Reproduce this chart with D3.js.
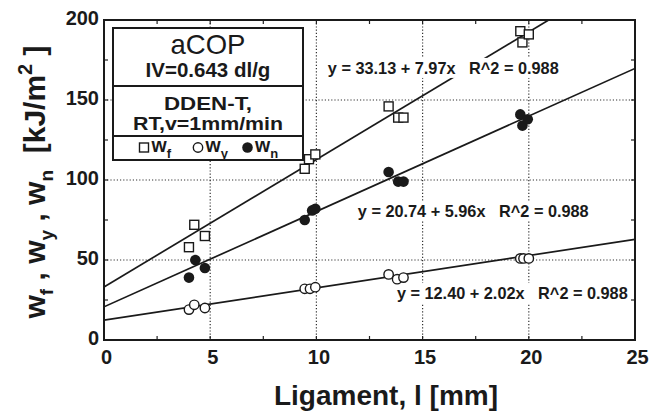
<!DOCTYPE html>
<html>
<head>
<meta charset="utf-8">
<script src="https://cdn.jsdelivr.net/npm/d3@7"></script>
<style>
  body { margin: 0; background: #fff; }
  svg text { font-family: "Liberation Sans", Arial, sans-serif; fill: #1a1a1a; }
</style>
</head>
<body>
<svg id="drawing_region"></svg>
<script>
// ligament length [mm] and energies [kJ/m2]
const lig_f = [4.0, 4.25, 4.75, 9.45, 9.65, 9.95, 13.4, 13.85, 14.1, 19.6, 19.7, 20.0];
const w_f   = [58, 72, 65, 107, 113, 116, 146, 139, 139, 193, 186, 191];
const lig_y = [4.0, 4.25, 4.75, 9.45, 9.7, 9.95, 13.4, 13.8, 14.1, 19.6, 19.75, 20.0];
const w_y   = [19, 22, 20, 32, 32, 33, 41, 38, 39, 51, 51, 51];
const lig_n = [4.0, 4.3, 4.75, 9.45, 9.8, 9.95, 13.4, 13.85, 14.1, 19.6, 19.7, 19.95];
const w_n   = [39, 50, 45, 75, 81, 82, 105, 99, 99, 141, 134, 138];

// regression lines  y = a + b x
const fit_names = ['f', 'n', 'y'];
const fit_a = [33.13, 20.74, 12.40];
const fit_b = [7.97, 5.96, 2.02];
const fit_r2 = [0.988, 0.988, 0.988];

const x_ticks = [0, 5, 10, 15, 20, 25];
const y_ticks = [0, 50, 100, 150, 200];

const config = {
    width: 649, height: 416,
    margin: {top: 20, right: 14, bottom: 76, left: 104}
};

const svg = d3.select('#drawing_region')
    .attr('width', config.width)
    .attr('height', config.height);

const inner_width = config.width - config.margin.left - config.margin.right;
const inner_height = config.height - config.margin.top - config.margin.bottom;

const chart = svg.append('g')
    .attr('transform', `translate(${config.margin.left}, ${config.margin.top})`);

const xscale = d3.scaleLinear().domain([0, 25]).range([0, inner_width]);
const yscale = d3.scaleLinear().domain([0, 200]).range([inner_height, 0]);

// dotted grid
chart.append('g').selectAll('line')
    .data(x_ticks.slice(1, -1))
    .join('line')
    .attr('x1', d => xscale(d)).attr('x2', d => xscale(d))
    .attr('y1', 0).attr('y2', inner_height)
    .attr('stroke', '#333').attr('stroke-width', 1.2)
    .attr('stroke-dasharray', '1.2,2');

chart.append('g').selectAll('line')
    .data(y_ticks.slice(1, -1))
    .join('line')
    .attr('y1', d => yscale(d)).attr('y2', d => yscale(d))
    .attr('x1', 0).attr('x2', inner_width)
    .attr('stroke', '#333').attr('stroke-width', 1.2)
    .attr('stroke-dasharray', '1.2,2');

// axes (labels only, ticks drawn inward below)
const xaxis = d3.axisBottom(xscale).tickValues(x_ticks).tickSize(0).tickPadding(12)
    .tickFormat(d3.format('d'));
const yaxis = d3.axisLeft(yscale).tickValues(y_ticks).tickSize(0).tickPadding(5)
    .tickFormat(d3.format('d'));

const xaxis_group = chart.append('g')
    .attr('transform', `translate(0, ${inner_height})`)
    .call(xaxis);
const yaxis_group = chart.append('g').call(yaxis);

[xaxis_group, yaxis_group].forEach(g => {
    g.select('.domain').remove();
    g.selectAll('text')
        .attr('font-size', 20).attr('font-weight', 'bold')
        .attr('fill', '#1a1a1a')
        .style('font-family', '"Liberation Sans", Arial, sans-serif');
});
xaxis_group.selectAll('text').attr('dx', 2).attr('dy', '0.6em');
yaxis_group.selectAll('text').attr('dy', '0.2em');

const x_minor = d3.range(2.5, 25, 2.5);
const y_minor = d3.range(25, 200, 25);
chart.append('g').selectAll('line')
    .data(x_minor)
    .join('line')
    .attr('x1', d => xscale(d)).attr('x2', d => xscale(d))
    .attr('y1', inner_height).attr('y2', inner_height - 4)
    .attr('stroke', '#222').attr('stroke-width', 1.2);
chart.append('g').selectAll('line')
    .data(x_minor)
    .join('line')
    .attr('x1', d => xscale(d)).attr('x2', d => xscale(d))
    .attr('y1', 0).attr('y2', 4)
    .attr('stroke', '#222').attr('stroke-width', 1.2);
chart.append('g').selectAll('line')
    .data(y_minor)
    .join('line')
    .attr('y1', d => yscale(d)).attr('y2', d => yscale(d))
    .attr('x1', 0).attr('x2', 4)
    .attr('stroke', '#222').attr('stroke-width', 1.2);
chart.append('g').selectAll('line')
    .data(y_minor)
    .join('line')
    .attr('y1', d => yscale(d)).attr('y2', d => yscale(d))
    .attr('x1', inner_width).attr('x2', inner_width - 4)
    .attr('stroke', '#222').attr('stroke-width', 1.2);

// clip for fit lines
svg.append('defs').append('clipPath').attr('id', 'plot_clip')
    .append('rect').attr('width', inner_width).attr('height', inner_height);

const line = d3.line()
    .x(d => xscale(d[0]))
    .y(d => yscale(d[1]));

const fits = fit_names.map((n, i) => ({name: n, a: fit_a[i], b: fit_b[i], r2: fit_r2[i]}));

chart.append('g').attr('clip-path', 'url(#plot_clip)')
    .selectAll('path')
    .data(fits)
    .join('path')
    .attr('d', d => line([[0, d.a], [25, d.a + d.b * 25]]))
    .attr('stroke', '#1a1a1a').attr('stroke-width', 1.7)
    .attr('fill', 'none');

// equation labels on white boxes (they break lines and grid like the original)
const label_pos = {f: [10.54, 166.3], n: [11.95, 76.9], y: [13.79, 25.6]};
const labels = chart.append('g').selectAll('g')
    .data(fits)
    .join('g');
const label_text = labels.append('text')
    .attr('x', d => xscale(label_pos[d.name][0]))
    .attr('y', d => yscale(label_pos[d.name][1]))
    .attr('font-size', 16.3).attr('font-weight', 'bold')
    .attr('xml:space', 'preserve')
    .style('white-space', 'pre')
    .text(d => `y = ${d.a.toFixed(2)} + ${d.b.toFixed(2)}x   R^2 = ${d.r2.toFixed(3)}`);
label_text.each(function () {
    const b = this.getBBox();
    d3.select(this.parentNode).insert('rect', 'text')
        .attr('x', b.x - 3).attr('y', b.y - 1)
        .attr('width', b.width + 6).attr('height', b.height + 2)
        .attr('fill', '#fff');
});

// data markers
const pts = (xs, ys) => xs.map((x, i) => ({x: x, y: ys[i]}));

chart.append('g').selectAll('rect')
    .data(pts(lig_f, w_f))
    .join('rect')
    .attr('x', d => xscale(d.x) - 4.5).attr('y', d => yscale(d.y) - 4.5)
    .attr('width', 9).attr('height', 9)
    .attr('fill', '#fff').attr('stroke', '#1a1a1a').attr('stroke-width', 1.4);

chart.append('g').selectAll('circle')
    .data(pts(lig_y, w_y))
    .join('circle')
    .attr('cx', d => xscale(d.x)).attr('cy', d => yscale(d.y))
    .attr('r', 4.7)
    .attr('fill', '#fff').attr('stroke', '#1a1a1a').attr('stroke-width', 1.4);

chart.append('g').selectAll('circle')
    .data(pts(lig_n, w_n))
    .join('circle')
    .attr('cx', d => xscale(d.x)).attr('cy', d => yscale(d.y))
    .attr('r', 5.3)
    .attr('fill', '#1a1a1a');

// frame
chart.append('rect')
    .attr('width', inner_width).attr('height', inner_height)
    .attr('fill', 'none').attr('stroke', '#1a1a1a').attr('stroke-width', 2);

// legend box
const legend = svg.append('g').attr('transform', 'translate(113, 28)');
legend.append('rect')
    .attr('width', 190).attr('height', 132)
    .attr('fill', '#fff').attr('stroke', '#1a1a1a').attr('stroke-width', 2);
legend.selectAll('line.sep')
    .data([58, 108])
    .join('line')
    .attr('x1', 0).attr('x2', 190)
    .attr('y1', d => d).attr('y2', d => d)
    .attr('stroke', '#1a1a1a').attr('stroke-width', 2);

const box_lines = [
    {t: 'aCOP', y: 26, s: 27.5, w: 'normal', len: null},
    {t: 'IV=0.643 dl/g', y: 49, s: 20.5, w: 'bold', len: null},
    {t: 'DDEN-T,', y: 81.5, s: 18, w: 'bold', len: 88},
    {t: 'RT,v=1mm/min', y: 102, s: 18, w: 'bold', len: 150}
];
legend.selectAll('text.box')
    .data(box_lines)
    .join('text')
    .attr('x', 95).attr('y', d => d.y)
    .attr('text-anchor', 'middle')
    .attr('font-size', d => d.s).attr('font-weight', d => d.w)
    .attr('textLength', d => d.len)
    .attr('lengthAdjust', d => d.len ? 'spacingAndGlyphs' : null)
    .text(d => d.t);

const legend_items = [
    {sym: 'square', sub: 'f', x: 31},
    {sym: 'open', sub: 'y', x: 85},
    {sym: 'filled', sub: 'n', x: 134.5}
];
const li = legend.selectAll('g.item')
    .data(legend_items)
    .join('g')
    .attr('transform', d => `translate(${d.x}, 119.5)`);
li.filter(d => d.sym === 'square').append('rect')
    .attr('x', -4.5).attr('y', -4.5).attr('width', 9).attr('height', 9)
    .attr('fill', '#fff').attr('stroke', '#1a1a1a').attr('stroke-width', 1.4);
li.filter(d => d.sym === 'open').append('circle')
    .attr('r', 4.7).attr('fill', '#fff').attr('stroke', '#1a1a1a').attr('stroke-width', 1.4);
li.filter(d => d.sym === 'filled').append('circle')
    .attr('r', 5.3).attr('fill', '#1a1a1a');
const lt = li.append('text')
    .attr('x', 7.5).attr('y', 4.5)
    .attr('font-size', 19.5).attr('font-weight', 'bold');
lt.append('tspan').text('w');
lt.append('tspan').attr('font-size', 13).attr('dy', 6).text(d => d.sub);

// axis titles
svg.append('text')
    .attr('x', 386).attr('y', 405)
    .attr('text-anchor', 'middle')
    .attr('font-size', 28).attr('font-weight', 'bold')
    .text('Ligament, l [mm]');

const ytitle = svg.append('text')
    .attr('transform', 'translate(45, 182) rotate(-90)')
    .attr('text-anchor', 'middle')
    .attr('font-size', 30).attr('font-weight', 'bold')
    .attr('xml:space', 'preserve');
const ysub = [['w', 'f', ' , '], ['w', 'y', ' , '], ['w', 'n', '  [kJ/m']];
ysub.forEach(p => {
    ytitle.append('tspan').text(p[0]);
    ytitle.append('tspan').attr('font-size', 19).attr('dy', 8).text(p[1]);
    ytitle.append('tspan').attr('dy', -8).text(p[2]);
});
ytitle.append('tspan').attr('font-size', 20).attr('dy', -13).text('2');
ytitle.append('tspan').attr('dy', 13).text(' ]');
</script>
</body>
</html>
